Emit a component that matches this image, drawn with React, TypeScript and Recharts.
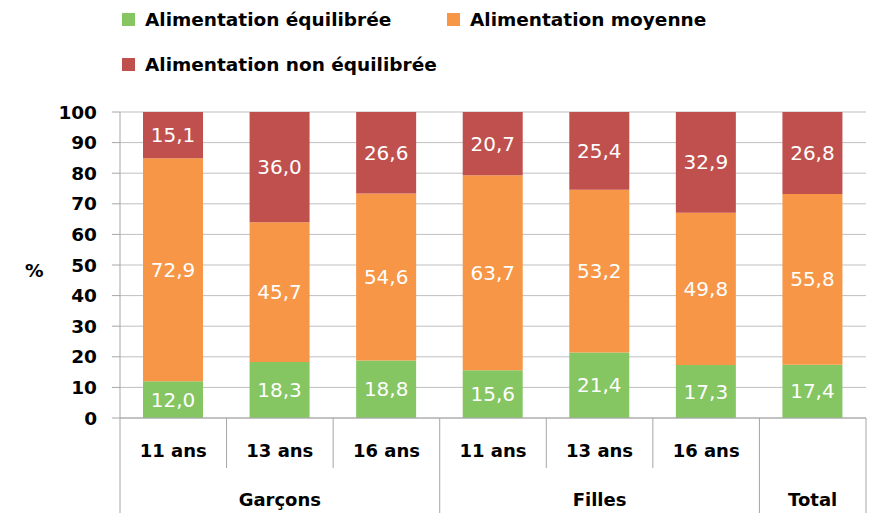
import React from 'react';
import {
  BarChart,
  Bar,
  XAxis,
  YAxis,
  CartesianGrid,
  Legend,
  LabelList
} from 'recharts';

const AGES = ['11 ans', '13 ans', '16 ans', '11 ans', '13 ans', '16 ans', ''];
const GROUPS = ['Garçons', 'Garçons', 'Garçons', 'Filles', 'Filles', 'Filles', 'Total'];
const SERIES_NAMES = ['Alimentation équilibrée', 'Alimentation moyenne', 'Alimentation non équilibrée'];
const EQUILIBREE = [12.0, 18.3, 18.8, 15.6, 21.4, 17.3, 17.4];
const MOYENNE = [72.9, 45.7, 54.6, 63.7, 53.2, 49.8, 55.8];
const NON_EQUILIBREE = [15.1, 36.0, 26.6, 20.7, 25.4, 32.9, 26.8];
const Y_TICKS = [0, 10, 20, 30, 40, 50, 60, 70, 80, 90, 100];

const WIDTH = 880;
const HEIGHT = 513;
const MARGIN = { top: 112, right: 14, bottom: 0, left: 10 };
const Y_AXIS_WIDTH = 110;
const FONT = '"DejaVu Sans", sans-serif';

const data = AGES.map((age, i) => ({
  key: `${GROUPS[i]}-${i}`,
  age,
  group: GROUPS[i],
  equilibree: EQUILIBREE[i],
  moyenne: MOYENNE[i],
  nonEquilibree: NON_EQUILIBREE[i],
}));

const bandWidth = (WIDTH - MARGIN.left - MARGIN.right - Y_AXIS_WIDTH) / data.length;

const fmt = (v: any) => Number(v).toFixed(1).replace('.', ',');

// Two-level category axis: age row, then group row with separators
const CategoryTick = (props: any) => {
  const { x, y, index } = props;
  const i = index as number;
  const group = GROUPS[i];
  const isGroupStart = i === 0 || GROUPS[i - 1] !== group;
  const isLast = i === GROUPS.length - 1;
  let groupEnd = i;
  while (groupEnd + 1 < GROUPS.length && GROUPS[groupEnd + 1] === group) groupEnd++;
  const left = x - bandWidth / 2;
  const lineColor = '#A6A6A6';
  return (
    <g>
      <line x1={left} x2={left} y1={y} y2={isGroupStart ? y + 95 : y + 50} stroke={lineColor} />
      {isLast && <line x1={left + bandWidth} x2={left + bandWidth} y1={y} y2={y + 95} stroke={lineColor} />}
      {AGES[i] && (
        <text x={x} y={y + 39} textAnchor="middle" fontFamily={FONT} fontWeight="bold" fontSize={18} fill="#000">
          {AGES[i]}
        </text>
      )}
      {isGroupStart && (
        <text
          x={x + ((groupEnd - i) / 2) * bandWidth}
          y={y + 88}
          textAnchor="middle"
          fontFamily={FONT}
          fontWeight="bold"
          fontSize={18}
          fill="#000"
        >
          {group}
        </text>
      )}
    </g>
  );
};

const renderLegend = (props: any) => {
  const payload = [...(props.payload || [])].sort(
    (a: any, b: any) => SERIES_NAMES.indexOf(a.value) - SERIES_NAMES.indexOf(b.value)
  );
  return (
    <div style={{ display: 'flex', flexWrap: 'wrap', width: 660, fontFamily: FONT, fontWeight: 'bold', fontSize: 18.5, color: '#000' }}>
      {payload.map((entry: any) => (
        <div key={entry.value} style={{ width: 325, height: 45, display: 'flex', alignItems: 'center' }}>
          <span style={{ display: 'inline-block', width: 13, height: 13, background: entry.color, marginRight: 10 }} />
          <span>{entry.value}</span>
        </div>
      ))}
    </div>
  );
};

export default function App() {
  return (
    <div style={{ position: 'absolute', left: 0, top: 0, background: '#fff' }}>
      <BarChart width={WIDTH} height={HEIGHT} data={data} margin={MARGIN}>
        <CartesianGrid vertical={false} stroke="#BFBFBF" />
        <XAxis
          dataKey="key"
          interval={0}
          tickSize={0}
          tickMargin={0}
          height={95}
          axisLine={{ stroke: '#A6A6A6' }}
          tickLine={false}
          tick={<CategoryTick />}
        />
        <YAxis
          width={Y_AXIS_WIDTH}
          domain={[0, 100]}
          ticks={Y_TICKS}
          interval={0}
          tickSize={8}
          tickMargin={15}
          axisLine={{ stroke: '#A6A6A6' }}
          tickLine={{ stroke: '#A6A6A6' }}
          tick={{ fontFamily: FONT, fontWeight: 'bold', fontSize: 18.5, fill: '#000' }}
          label={{ value: '%', position: 'insideLeft', offset: 15, dy: 5, fontFamily: FONT, fontWeight: 'bold', fontSize: 18.5, fill: '#000' }}
        />
        <Legend
          layout="horizontal"
          verticalAlign="middle"
          align="center"
          content={renderLegend}
          wrapperStyle={{ top: -3.5, left: 122, width: 660 }}
        />
        <Bar dataKey="equilibree" name={SERIES_NAMES[0]} stackId="a" fill="#85C562" barSize={60} isAnimationActive={false}>
          <LabelList dataKey="equilibree" position="center" formatter={fmt} fill="#fff" fontFamily={FONT} fontSize={20} />
        </Bar>
        <Bar dataKey="moyenne" name={SERIES_NAMES[1]} stackId="a" fill="#F79646" barSize={60} isAnimationActive={false}>
          <LabelList dataKey="moyenne" position="center" formatter={fmt} fill="#fff" fontFamily={FONT} fontSize={20} />
        </Bar>
        <Bar dataKey="nonEquilibree" name={SERIES_NAMES[2]} stackId="a" fill="#C0504D" barSize={60} isAnimationActive={false}>
          <LabelList dataKey="nonEquilibree" position="center" formatter={fmt} fill="#fff" fontFamily={FONT} fontSize={20} />
        </Bar>
      </BarChart>
    </div>
  );
}
